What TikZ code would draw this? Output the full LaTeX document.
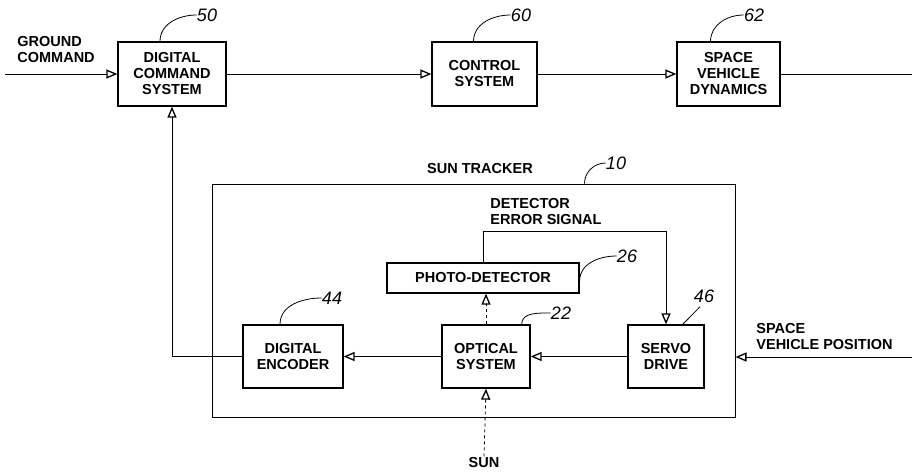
\documentclass[tikz,border=0pt]{standalone}
\usepackage{fontspec}
\setmainfont{Liberation Sans}
\usetikzlibrary{arrows.meta}

\begin{document}
\begin{tikzpicture}[x=1pt,y=-1pt,line width=0.8pt,
    >={Triangle[open,length=11pt,width=9pt,line width=1.3pt]},
    blk/.style={draw,line width=1.3pt,inner sep=0pt,align=center,
        font=\fontsize{14.5}{16}\selectfont\bfseries},
    lbl/.style={align=left,inner sep=0pt,font=\fontsize{14.5}{16}\selectfont\bfseries},
    num/.style={inner sep=0pt,font=\fontsize{18}{19}\selectfont\itshape}]
    \useasboundingbox (0,0) rectangle (912,472);
    % top row
    \node[blk,minimum width=108pt,minimum height=64pt] (dcs) at (172,74) {DIGITAL\\COMMAND\\SYSTEM};
    \node[blk,minimum width=105pt,minimum height=64pt] (cs) at (484.5,74) {CONTROL\\SYSTEM};
    \node[blk,minimum width=103pt,minimum height=64pt] (svd) at (728.5,74) {SPACE\\VEHICLE\\DYNAMICS};
    \node[lbl,anchor=west] (gc) at (17,50) {GROUND\\COMMAND};
    \coordinate (gnd) at (5,74);
    \coordinate (out) at (912,74);
    % sun tracker
    \node[draw,line width=1pt,minimum width=523pt,minimum height=233pt] (trk) at (473.5,300.5) {};
    \node[lbl] (trkname) at (480,169) {SUN TRACKER};
    \node[blk,minimum width=192pt,minimum height=30pt] (photo) at (483,278) {PHOTO-DETECTOR};
    \node[blk,minimum width=88pt,minimum height=63pt] (opt) at (486,356.5) {OPTICAL\\SYSTEM};
    \node[blk,minimum width=100pt,minimum height=63pt] (enc) at (293,356.5) {DIGITAL\\ENCODER};
    \node[blk,minimum width=76pt,minimum height=63pt] (servo) at (666,356.5) {SERVO\\DRIVE};
    \node[lbl,anchor=west] (err) at (490,212) {DETECTOR\\ERROR SIGNAL};
    \node[lbl,anchor=west] (svp) at (756,337) {SPACE\\VEHICLE POSITION};
    \node[lbl] (sun) at (484,462) {SUN};
    \coordinate (pos) at (912,357);
    % connectors
    \draw[->] (gnd) -- (dcs.west);
    \draw[->] (dcs) -- (cs);
    \draw[->] (cs) -- (svd);
    \draw (svd.east) -- (out);
    \draw[->] (opt) -- (enc);
    \draw[->] (servo) -- (opt);
    \draw[->] (enc.west) -| (dcs.south);
    \draw[->] (photo.north) -- ++(0,-31) -| (servo.north);
    \draw[->,dashed] (opt.north) -- (opt.north |- photo.south);
    \draw[->,dashed] (sun.north) -- (opt.south);
    \draw[->] (pos) -- (trk.east |- pos);
    % reference numbers
    \node[num] (n50) at (207,15) {50};
    \node[num] (n60) at (521,15) {60};
    \node[num] (n62) at (754,15) {62};
    \node[num] (n10) at (616,163) {10};
    \node[num] (n26) at (627,256) {26};
    \node[num] (n44) at (332,298) {44};
    \node[num] (n22) at (561,313) {22};
    \node[num] (n46) at (704,296) {46};
    \draw ([xshift=-12pt]dcs.north) to[out=90,in=180] (n50.west);
    \draw ([xshift=-11pt]cs.north) to[out=90,in=180] (n60.west);
    \draw ([xshift=-18pt]svd.north) to[out=90,in=180] (n62.west);
    \draw ([xshift=111pt]trk.north) to[out=90,in=180] (n10.west);
    \draw ([yshift=-3pt]photo.east) to[out=90,in=180] (n26.west);
    \draw ([xshift=-13pt]enc.north) to[out=90,in=180] (n44.west);
    \draw ([xshift=-9pt]opt.north east) to[out=90,in=180] (n22.west);
    \draw ([xshift=-22pt]servo.north east) -- ([xshift=-4pt,yshift=-4pt]n46.south);
\end{tikzpicture}
\end{document}
